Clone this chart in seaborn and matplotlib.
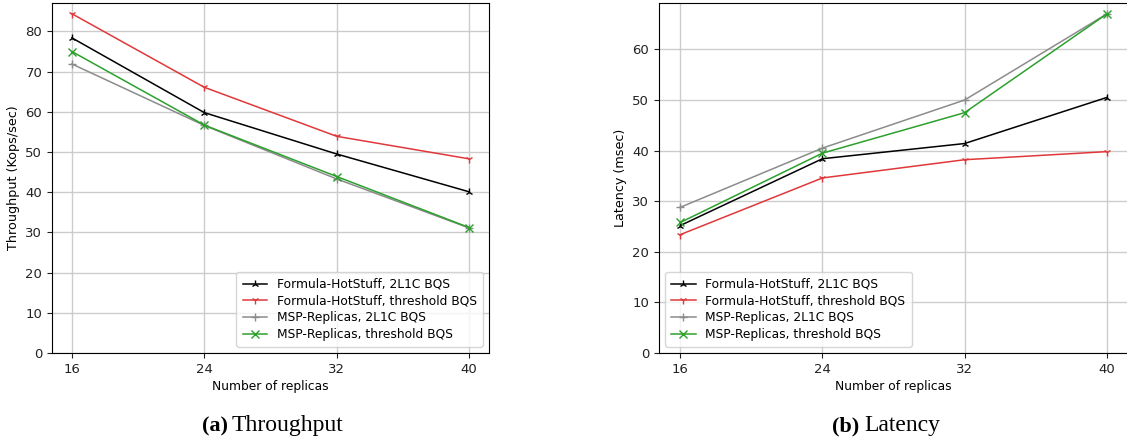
import pandas as pd
import numpy as np
import matplotlib
matplotlib.use("Agg")
import matplotlib.pyplot as plt
import seaborn as sns

# - - - data - - - #
replicas = [16, 24, 32, 40]

series_names = [
    "Formula-HotStuff, 2L1C BQS",
    "Formula-HotStuff, threshold BQS",
    "MSP-Replicas, 2L1C BQS",
    "MSP-Replicas, threshold BQS",
]

throughput_fh_2l1c = [78.4, 59.8, 49.5, 40.1]
throughput_fh_thr = [84.4, 66.1, 53.9, 48.3]
throughput_msp_2l1c = [71.9, 56.6, 43.3, 31.1]
throughput_msp_thr = [75.0, 56.7, 43.9, 31.2]

latency_fh_2l1c = [25.2, 38.4, 41.4, 50.5]
latency_fh_thr = [23.4, 34.6, 38.2, 39.8]
latency_msp_2l1c = [28.8, 40.5, 50.0, 67.0]
latency_msp_thr = [25.8, 39.5, 47.5, 67.0]

colors = ["black", "#e0383a", "#8c8c8c", "#2ca02c"]
markers = ["2", "1", "+", "x"]

throughput = [throughput_fh_2l1c, throughput_fh_thr, throughput_msp_2l1c, throughput_msp_thr]
latency = [latency_fh_2l1c, latency_fh_thr, latency_msp_2l1c, latency_msp_thr]

plt.rcParams["font.family"] = ["DejaVu Sans"]
plt.rcParams["font.size"] = 8.8

fig = plt.figure(figsize=(11.27, 4.43), dpi=100)
ax1 = fig.add_axes([52 / 1127, 90 / 443, 437 / 1127, 350 / 443])
ax2 = fig.add_axes([659 / 1127, 90 / 443, 469 / 1127, 350 / 443])


def draw_panel(ax, values, ylabel, legend_loc, ymax_tick):
    for name, vals, col, mk in zip(series_names, values, colors, markers):
        sns.lineplot(x=replicas, y=vals, ax=ax, color=col, marker=mk,
                     markersize=6, markeredgecolor=col, markeredgewidth=1.0,
                     linewidth=1.1, label=name)
    ax.set_ylim(bottom=0)
    ax.set_xticks(replicas)
    ax.set_yticks(np.arange(0, ymax_tick + 1, 10))
    ax.grid(True, color="#cccccc", linewidth=1.0)
    ax.set_axisbelow(True)
    ax.set_xlabel("Number of replicas", labelpad=3)
    ax.set_ylabel(ylabel, fontsize=9.2)
    ax.tick_params(colors="#222222", labelsize=9.5)
    ax.legend(loc=legend_loc, fontsize=8.8, handlelength=2.0,
              borderpad=0.5, labelspacing=0.3)


draw_panel(ax1, throughput, "Throughput (Kops/sec)", "lower right", 80)
draw_panel(ax2, latency, "Latency (msec)", "lower left", 60)

# - - - sub captions - - - #
cap_font = ["Liberation Serif", "DejaVu Serif"]
cap_y = 1 - 426 / 443
fig.text(228 / 1127, cap_y, "(a)", ha="right", va="center",
         fontsize=16, fontweight="bold", family=cap_font)
fig.text(232 / 1127, cap_y, "Throughput", ha="left", va="center",
         fontsize=17, family=cap_font)
fig.text(859 / 1127, cap_y, "(b)", ha="right", va="center",
         fontsize=16, fontweight="bold", family=cap_font)
fig.text(864 / 1127, cap_y, "Latency", ha="left", va="center",
         fontsize=17, family=cap_font)

fig.savefig("out.png", dpi=100)
